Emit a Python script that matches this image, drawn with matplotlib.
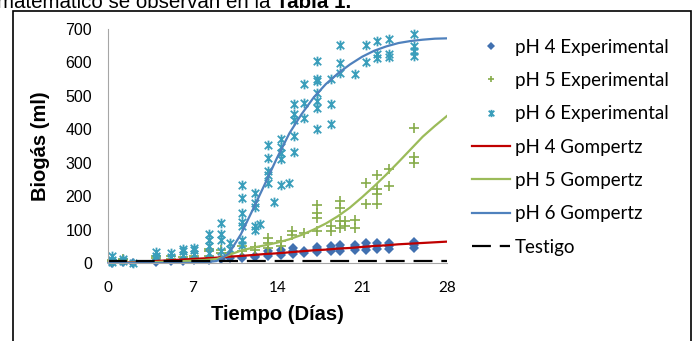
import matplotlib
matplotlib.use("Agg")
import matplotlib.pyplot as plt
from matplotlib.path import Path
from matplotlib.patches import Rectangle

# Gompertz model curves, read at each day
dias_curva = list(range(29))
gompertz_ph4 = [0, 1, 2, 4, 6, 8, 10, 12, 14, 16, 19, 21, 24, 27, 29,
                32, 35, 38, 40, 43, 45, 48, 51, 53, 56, 58, 60, 62, 64]
gompertz_ph5 = [0, 0, 1, 2, 3, 4, 5, 7, 9, 12, 24, 37, 46, 53, 61,
                71, 84, 100, 118, 140, 166, 197, 230, 265, 302, 340, 378, 410, 440]
gompertz_ph6 = [0, 0, 0, 0, 0, 0, 0, 0.5, 2, 6, 28, 86, 161, 238, 316,
                388, 445, 495, 535, 567, 594, 617, 635, 648, 658, 664, 668, 671, 672]
testigo_dias = [0, 28]
testigo = [7, 7]

# experimental points (day, biogas ml)
ph4_dias = [0.4, 0.4, 1.3, 2.1, 4.0, 4.0, 5.2, 6.2, 6.2, 7.1, 8.4, 8.4, 9.4, 10.1,
            11.1, 11.1, 12.2, 12.2, 13.2, 13.2, 13.2, 14.3, 14.3, 14.3,
            15.3, 15.3, 15.3, 16.2, 16.2, 17.3, 17.3, 17.3, 18.4, 18.4, 18.4,
            19.2, 19.2, 19.2, 20.4, 20.4, 20.4, 21.3, 21.3, 21.3,
            22.2, 22.2, 22.2, 23.2, 23.2, 23.2, 25.3, 25.3, 25.3]
ph4_biogas = [0, 3, 2, 1, 3, 5, 5, 6, 8, 8, 10, 12, 12, 14,
              15, 18, 18, 22, 22, 28, 35, 24, 31, 40,
              27, 35, 45, 30, 37, 33, 41, 48, 35, 43, 50,
              37, 46, 53, 38, 47, 55, 40, 49, 60,
              42, 51, 60, 43, 52, 61, 44, 53, 63]

ph5_dias = [0.4, 0.4, 1.3, 1.3, 4.0, 4.0, 5.2, 5.2, 6.2, 7.1, 7.1, 8.4, 8.4, 8.4,
            9.4, 9.4, 10.1, 11.1, 11.1, 12.2, 12.2, 13.2, 13.2, 13.2, 14.3, 14.3,
            15.2, 15.2, 16.2, 17.3, 17.3, 17.3, 17.3, 18.4, 18.4,
            19.2, 19.2, 19.2, 19.2, 19.6, 19.6, 20.4, 20.4, 21.3, 21.3,
            22.2, 22.2, 22.2, 22.2, 23.2, 23.2, 25.3, 25.3, 25.3]
ph5_biogas = [5, 10, 8, 12, 15, 22, 12, 20, 18, 15, 20, 22, 35, 42,
              30, 38, 30, 35, 50, 40, 48, 45, 60, 75, 50, 65,
              85, 95, 90, 95, 135, 150, 175, 95, 110,
              105, 125, 165, 185, 110, 125, 105, 130, 178, 240,
              176, 205, 220, 262, 230, 282, 300, 318, 405]

ph6_dias = [0.4, 0.4, 0.4, 1.3, 1.3, 2.1, 4.0, 4.0, 4.0, 5.2, 5.2, 6.2, 6.2, 6.2,
            7.1, 7.1, 7.1, 8.4, 8.4, 8.4, 8.4, 9.4, 9.4, 9.4, 9.4, 10.1, 10.1,
            11.1, 11.1, 11.1, 11.1, 11.1, 11.1, 11.1, 12.2, 12.2, 12.2, 12.2, 12.2, 12.6,
            13.2, 13.2, 13.2, 13.2, 13.2, 13.7, 14.3, 14.3, 14.3, 14.3, 14.3, 15.0,
            15.4, 15.4, 15.4, 15.4, 15.4, 16.2, 16.2, 16.2,
            17.3, 17.3, 17.3, 17.3, 17.3, 17.3, 17.3, 18.4, 18.4, 18.4,
            19.2, 19.2, 19.2, 20.4, 21.3, 21.3, 22.2, 22.2, 22.2,
            23.2, 23.2, 23.2, 25.3, 25.3, 25.3, 25.3]
ph6_biogas = [2, 10, 20, 5, 12, 0, 12, 22, 32, 18, 30, 25, 35, 42,
              28, 38, 46, 30, 50, 70, 88, 35, 70, 88, 120, 42, 60,
              55, 70, 110, 122, 150, 195, 232, 100, 110, 168, 180, 210, 117,
              240, 262, 275, 315, 352, 182, 232, 310, 330, 348, 370, 240,
              332, 380, 428, 445, 475, 435, 480, 535,
              400, 465, 485, 510, 545, 550, 605, 415, 475, 550,
              568, 598, 652, 565, 600, 652, 612, 625, 665,
              615, 625, 670, 620, 635, 650, 685]

# Excel-style star marker: an x with a vertical bar
estrella = Path([(-1, -1), (1, 1), (-1, 1), (1, -1), (0, -1.3), (0, 1.3)],
                [Path.MOVETO, Path.LINETO, Path.MOVETO, Path.LINETO, Path.MOVETO, Path.LINETO])

fig = plt.figure(figsize=(7, 3.41), dpi=100)
ax = fig.add_axes([0.1536, 0.2287, 0.485, 0.6863])

ax.plot(ph4_dias, ph4_biogas, linestyle="none", marker="D", markersize=5.5,
        color="#4170B0", markeredgewidth=0, clip_on=False, label="pH 4 Experimental")
ax.plot(ph5_dias, ph5_biogas, linestyle="none", marker="+", markersize=6.5,
        markeredgewidth=1.2, color="#86AC4A", clip_on=False, label="pH 5 Experimental")
ax.plot(ph6_dias, ph6_biogas, linestyle="none", marker=estrella, markersize=7,
        markeredgewidth=1.3, markerfacecolor="none", markeredgecolor="#3A9EBB",
        clip_on=False, label="pH 6 Experimental")
ax.plot(dias_curva, gompertz_ph4, color="#C00000", lw=1.6, label="pH 4 Gompertz")
ax.plot(dias_curva, gompertz_ph5, color="#9BBB59", lw=1.6, label="pH 5 Gompertz")
ax.plot(dias_curva, gompertz_ph6, color="#4F81BD", lw=1.6, label="pH 6 Gompertz")
ax.plot(testigo_dias, testigo, color="black", lw=1.6, dashes=(8.5, 4), label="Testigo")

ax.set_xlim(0, 28)
ax.set_ylim(0, 700)
ax.set_xticks([0, 7, 14, 21, 28])
ax.set_yticks(range(0, 701, 100))
ax.tick_params(axis="both", length=0)
ax.tick_params(axis="y", pad=11, labelsize=11.5)
ax.tick_params(axis="x", pad=13, labelsize=11)
for lab in ax.get_xticklabels():
    lab.set_family("Lato")
for lab in ax.get_yticklabels():
    lab.set_family("Liberation Sans")

for s in ["top", "right"]:
    ax.spines[s].set_visible(False)
for s in ["left", "bottom"]:
    ax.spines[s].set_color("#A6A6A6")
    ax.spines[s].set_linewidth(0.8)

ax.set_xlabel("Tiempo (Días)", fontsize=14.5, fontweight="bold", family="Liberation Sans", labelpad=7)
ax.set_ylabel("Biogás (ml)", fontsize=14.5, fontweight="bold", family="Liberation Sans", labelpad=11)

leg = ax.legend(loc="upper left", bbox_to_anchor=(0.661, 0.914), bbox_transform=fig.transFigure,
                frameon=False, prop={"family": "Lato", "size": 13.5}, handlelength=2.0,
                handletextpad=0.27, labelspacing=0.87, borderpad=0, markerscale=0.75)

# outer frame of the figure box and the clipped sentence above it
fig.patches.append(Rectangle((13 / 700, -0.05), (691 - 13) / 700, 1.05 - 11 / 341,
                             transform=fig.transFigure, fill=False, lw=1.2, edgecolor="black"))
t1 = fig.text(-0.004, 1 - 8 / 341, "matemático se observan en la ", fontsize=14.8,
              family="Liberation Sans", va="baseline", ha="left")
fig.canvas.draw()
bb = t1.get_window_extent(renderer=fig.canvas.get_renderer())
fig.text(bb.x1 / fig.bbox.width, 1 - 8 / 341, "Tabla 1.", fontsize=14.8, fontweight="bold",
         family="Liberation Sans", va="baseline", ha="left")

fig.savefig("out.png", dpi=100)
